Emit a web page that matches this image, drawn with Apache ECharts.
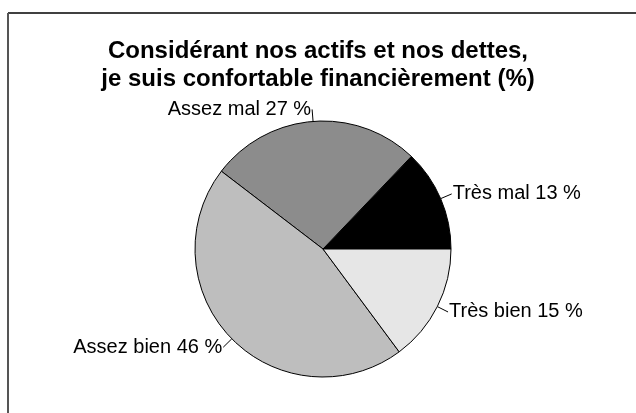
<!DOCTYPE html>
<html>
<head>
<meta charset="utf-8">
<script src="https://cdn.jsdelivr.net/npm/echarts@6/dist/echarts.min.js"></script>
<style>
html,body{margin:0;padding:0;background:#fff;}
#chart{width:636px;height:413px;}
</style>
</head>
<body>
<div id="chart"></div>
<script>
// slices, counter-clockwise from 3 o'clock
var categories = ['Très mal', 'Assez mal', 'Assez bien', 'Très bien']
var values = [13, 27, 46, 15]
var colors = ['#000000', '#8c8c8c', '#bebebe', '#e6e6e6']
var titleLines = ['Considérant nos actifs et nos dettes,', 'je suis confortable financièrement (%)']

var chart = echarts.init(document.getElementById('chart'))
var pieData = categories.map(function (c, i) {
    return { name: c, value: values[i], itemStyle: { color: colors[i] } }
})

var option = {
    animation: false,
    backgroundColor: '#fff',
    title: {
        text: titleLines.join('\n'),
        left: 'center',
        top: 32,
        textStyle: {
            fontFamily: 'Liberation Sans',
            fontSize: 24,
            fontWeight: 'bold',
            color: '#000',
            lineHeight: 28
        }
    },
    graphic: [
        // frame: top and left edges only
        { type: 'line', shape: { x1: 8, y1: 13, x2: 636, y2: 13 }, style: { stroke: '#000', lineWidth: 1.5 } },
        { type: 'line', shape: { x1: 8, y1: 13, x2: 8, y2: 413 }, style: { stroke: '#555', lineWidth: 2 } }
    ],
    series: [{
        type: 'pie',
        center: [323, 249],
        radius: 128,
        startAngle: 0,
        clockwise: false,
        avoidLabelOverlap: false,
        data: pieData,
        itemStyle: { borderColor: '#000', borderWidth: 1 },
        label: {
            show: true,
            formatter: '{b} {c} %',
            fontFamily: 'Liberation Sans',
            fontSize: 20,
            color: '#000',
            distanceToLabelLine: 1
        },
        labelLine: {
            show: true,
            length: 12,
            length2: 0,
            smooth: false,
            lineStyle: { color: '#000', width: 1 }
        },
        emphasis: { disabled: true }
    }]
}
chart.setOption(option)
</script>
</body>
</html>
